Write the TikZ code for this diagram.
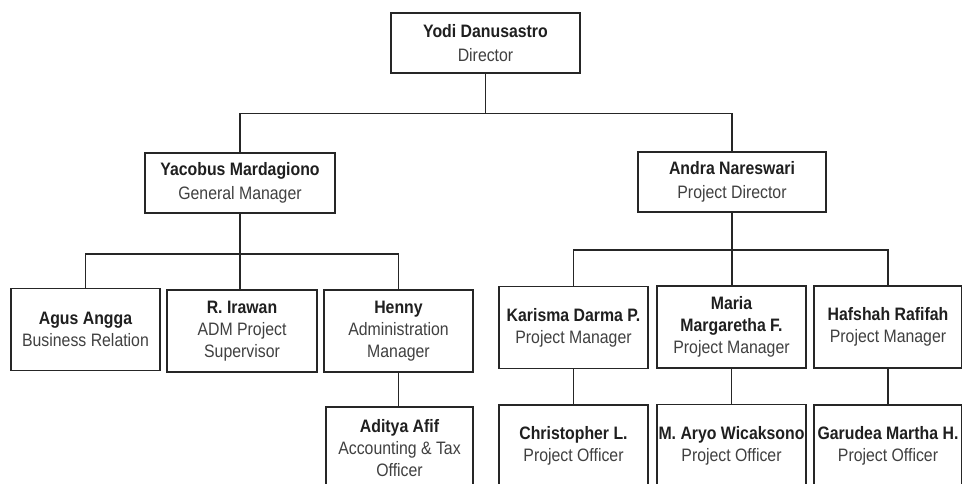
\documentclass[tikz,border=0pt]{standalone}
\usepackage{fontspec}
\setmainfont{Liberation Sans}[FakeStretch=0.88]
\tikzset{
	person/.style={draw=black!85,line width=1.5pt,fill=white,align=center,inner sep=0pt,
		minimum width=149pt,minimum height=82pt,text=black!75,
		font=\fontsize{18}{22}\selectfont},
	head/.style={person,minimum width=189pt,minimum height=60pt,font=\fontsize{18}{24.5}\selectfont},
	link/.style={draw=black!85,line width=1.5pt}
}
\newcommand{\nm}[1]{\textcolor{black!88}{\bfseries #1}}
\newcommand{\who}[2]{\nm{#1}\\#2}
\begin{document}
\begin{tikzpicture}[x=1pt,y=-1pt]
	\useasboundingbox (0,0) rectangle (962,484);
	\clip (0,0) rectangle (962,484);
	% top
	\node[head] (dir) at (485.5,43) {\who{Yodi Danusastro}{Director}};
	\node[head,minimum width=190pt] (gm) at (240,183) {\who{Yacobus Mardagiono}{General Manager}};
	\node[head,minimum width=188pt] (pd) at (732,182) {\who{Andra Nareswari}{Project Director}};
	% left branch
	\node[person] (agus) at (85.5,329.5) {\who{Agus Angga}{Business Relation}};
	\node[person,minimum width=150pt] (irawan) at (242,331) {\who{R. Irawan}{ADM Project\\Supervisor}};
	\node[person] (henny) at (398.5,331) {\who{Henny}{Administration\\Manager}};
	\node[person,minimum width=147pt] (aditya) at (399.5,448) {\who{Aditya Afif}{Accounting \& Tax\\Officer}};
	% right branch
	\node[person] (karisma) at (573.5,327.5) {\who{Karisma Darma P.}{Project Manager}};
	\node[person] (maria) at (731.5,327) {\nm{Maria}\\\who{Margaretha F.}{Project Manager}};
	\node[person,minimum width=148pt] (hafshah) at (888,327) {\who{Hafshah Rafifah}{Project Manager}};
	\node[person] (chris) at (573.5,446) {\who{Christopher L.}{Project Officer}};
	\node[person] (aryo) at (731.5,445.5) {\who{M. Aryo Wicaksono}{Project Officer}};
	\node[person,minimum width=148pt] (garudea) at (888,446) {\who{Garudea Martha H.}{Project Officer}};
	% lines
	\draw[link] (dir.south) -- ++(0,40) coordinate (topbar);
	\draw[link] (gm.north) |- (topbar) -| (pd.north);
	\draw[link] (gm.south) -- ++(0,40) coordinate (gmbar);
	\draw[link] (agus.north) |- (gmbar) -| (henny.north);
	\draw[link] (gmbar) -- (gmbar |- irawan.north);
	\draw[link] (henny.south) -- (henny.south |- aditya.north);
	\draw[link] (pd.south) -- ++(0,37) coordinate (pdbar);
	\draw[link] (karisma.north) |- (pdbar) -| (hafshah.north);
	\draw[link] (pdbar) -- (pdbar |- maria.north);
	\draw[link] (karisma.south) -- (karisma.south |- chris.north);
	\draw[link] (maria.south) -- (maria.south |- aryo.north);
	\draw[link] (hafshah.south) -- (hafshah.south |- garudea.north);
\end{tikzpicture}
\end{document}
